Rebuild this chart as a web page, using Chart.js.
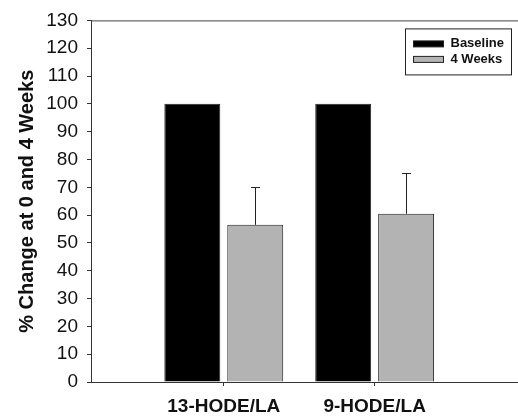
<!DOCTYPE html>
<html lang="en">
<head>
  <meta charset="UTF-8" />
  <title>HODE/LA change</title>
  <script src="https://cdn.jsdelivr.net/npm/chart.js"></script>
  <style>
    html, body {
      margin: 0;
      padding: 0;
      background: #fff;
    }

    .chart-box {
      width: 518px;
      height: 418px;
    }
  </style>
</head>
<body>
  <div class="chart-box">
    <canvas id="hodeChart"></canvas>
  </div>

  <script>
    const categories = ['13-HODE/LA', '9-HODE/LA'];
    const baseline = [100, 100];
    const fourWeeks = [56.5, 60.5];
    const fourWeeksErr = [13.5, 14.5];
    const yTicks = [0, 130, 10]; // min, max, step

    const font = '"Liberation Sans", Arial, sans-serif';
    Chart.defaults.font.family = font;
    Chart.defaults.color = '#111';

    // upward-only error bars on the 4 week bars
    const errorBars = {
      id: 'errorBars',
      afterDatasetsDraw(chart) {
        const meta = chart.getDatasetMeta(1);
        const y = chart.scales.y;
        const ctx = chart.ctx;
        ctx.save();
        ctx.strokeStyle = '#222';
        ctx.lineWidth = 1;
        meta.data.forEach((bar, i) => {
          const x = Math.round(bar.x) + 0.5;
          const top = Math.round(y.getPixelForValue(fourWeeks[i] + fourWeeksErr[i])) + 0.5;
          ctx.beginPath();
          ctx.moveTo(x, bar.y);
          ctx.lineTo(x, top);
          ctx.moveTo(x - 4.5, top);
          ctx.lineTo(x + 4.5, top);
          ctx.stroke();
        });
        ctx.restore();
      }
    };

    // top edge of the frame
    const frameTop = {
      id: 'frameTop',
      afterDraw(chart) {
        const a = chart.chartArea;
        const ctx = chart.ctx;
        ctx.save();
        ctx.strokeStyle = '#444';
        ctx.lineWidth = 1;
        ctx.beginPath();
        ctx.moveTo(a.left, a.top + 0.5);
        ctx.lineTo(a.right, a.top + 0.5);
        ctx.stroke();
        ctx.restore();
      }
    };

    // boxed legend inside the plot, top right
    const boxLegend = {
      id: 'boxLegend',
      afterDraw(chart) {
        const a = chart.chartArea;
        const ctx = chart.ctx;
        const w = 106, h = 46;
        const left = a.right - 7 - w + 0.5;
        const top = a.top + 8 + 0.5;
        ctx.save();
        ctx.fillStyle = '#fff';
        ctx.fillRect(left, top, w, h);
        ctx.strokeStyle = '#222';
        ctx.lineWidth = 1;
        ctx.strokeRect(left, top, w, h);
        ctx.font = 'bold 13px ' + font;
        ctx.textBaseline = 'middle';
        chart.data.datasets.forEach((ds, i) => {
          const cy = top + 15 + i * 15.5;
          ctx.fillStyle = ds.backgroundColor;
          ctx.fillRect(left + 8, cy - 3, 30, 6);
          ctx.strokeStyle = '#222';
          ctx.strokeRect(left + 8, cy - 3, 30, 6);
          ctx.fillStyle = '#111';
          ctx.fillText(ds.label, left + 45, cy);
        });
        ctx.restore();
      }
    };

    new Chart(document.getElementById('hodeChart'), {
      type: 'bar',
      data: {
        datasets: [{
          label: 'Baseline',
          data: baseline.map((v, i) => ({ x: i + 1, y: v })),
          backgroundColor: '#000',
          borderColor: '#222',
          borderWidth: 1,
          categoryPercentage: 0.834,
          barPercentage: 0.889
        }, {
          label: '4 Weeks',
          data: fourWeeks.map((v, i) => ({ x: i + 1, y: v })),
          backgroundColor: '#b3b3b3',
          borderColor: '#222',
          borderWidth: 1,
          categoryPercentage: 0.834,
          barPercentage: 0.889
        }]
      },
      options: {
        responsive: true,
        maintainAspectRatio: false,
        animation: false,
        layout: { padding: { top: 18, right: 0, left: 0, bottom: 0 } },
        plugins: {
          legend: { display: false },
          tooltip: { enabled: false }
        },
        scales: {
          x: {
            type: 'linear',
            min: 0.12,
            max: 2.95,
            offset: false,
            afterFit(scale) { scale.height = 36; },
            afterBuildTicks(scale) {
              scale.ticks = categories.map((c, i) => ({ value: i + 1 }));
            },
            ticks: {
              autoSkip: false,
              maxRotation: 0,
              padding: 9,
              font: { size: 19, weight: 'bold' },
              callback: v => categories[v - 1]
            },
            grid: {
              display: true,
              drawOnChartArea: false,
              offset: false,
              tickLength: 4,
              color: '#333'
            },
            border: { color: '#333', width: 1 }
          },
          y: {
            min: yTicks[0],
            max: yTicks[1],
            afterFit(scale) { scale.width = 91; },
            ticks: {
              stepSize: yTicks[2],
              padding: 9,
              font: { size: 19 }
            },
            grid: {
              display: true,
              drawOnChartArea: false,
              tickLength: 4,
              color: '#333'
            },
            border: { color: '#333', width: 1 },
            title: {
              display: true,
              text: '% Change at 0 and 4 Weeks',
              font: { size: 20, weight: 'bold' },
              padding: { top: 15, bottom: 0 }
            }
          }
        }
      },
      plugins: [errorBars, frameTop, boxLegend]
    });
  </script>
</body>
</html>
